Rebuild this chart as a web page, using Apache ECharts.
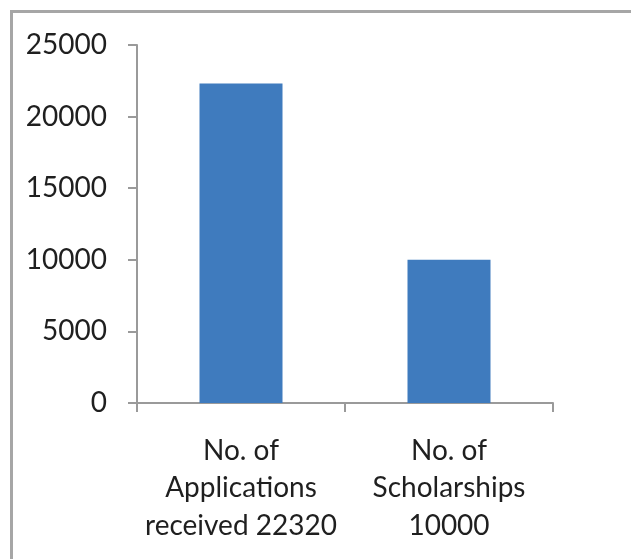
<!DOCTYPE html>
<html>
<head>
<meta charset="utf-8">
<script src="https://cdn.jsdelivr.net/npm/echarts@6/dist/echarts.min.js"></script>
<style>
  html, body { margin: 0; padding: 0; background: #fff; }
  #chart { width: 631px; height: 559px; }
</style>
</head>
<body>
<div id="chart"></div>
<script>
// Categories and counts
const categories = ['No. of\nApplications\nreceived 22320', 'No. of\nScholarships\n10000'];
const counts = [22320, 10000];
const yTicks = { min: 0, max: 25000, interval: 5000 };

const textColor = '#1f1f1f';
const axisColor = '#9a9a9a';
const fontFamily = 'Lato, "Open Sans", sans-serif';

const chart = echarts.init(document.getElementById('chart'), null, { renderer: 'canvas' });

chart.setOption({
  animation: false,
  backgroundColor: '#ffffff',
  graphic: [{
    // outer chart frame
    type: 'rect',
    shape: { x: 11.5, y: 11.5, width: 800, height: 800 },
    style: { fill: 'none', stroke: '#a6a6a6', lineWidth: 3 },
    silent: true
  }],
  grid: { left: 137, right: 78, top: 45, bottom: 156, containLabel: false },
  xAxis: {
    type: 'category',
    data: categories,
    axisLine: { lineStyle: { color: axisColor, width: 2 } },
    axisTick: { show: true, length: 9, lineStyle: { color: axisColor, width: 2 } },
    axisLabel: {
      color: textColor,
      fontFamily: fontFamily,
      fontSize: 28,
      lineHeight: 37.5,
      margin: 29,
      interval: 0,
      align: 'center'
    },
    splitLine: { show: false }
  },
  yAxis: {
    type: 'value',
    min: yTicks.min,
    max: yTicks.max,
    interval: yTicks.interval,
    axisLine: { show: true, lineStyle: { color: axisColor, width: 2 } },
    axisTick: { show: true, length: 9, lineStyle: { color: axisColor, width: 2 } },
    axisLabel: {
      color: textColor,
      fontFamily: fontFamily,
      fontSize: 28,
      margin: 30,
      formatter: v => String(v)
    },
    splitLine: { show: false }
  },
  series: [{
    type: 'bar',
    data: counts,
    barWidth: 83,
    itemStyle: { color: '#3F7BBE' }
  }]
});
</script>
</body>
</html>
